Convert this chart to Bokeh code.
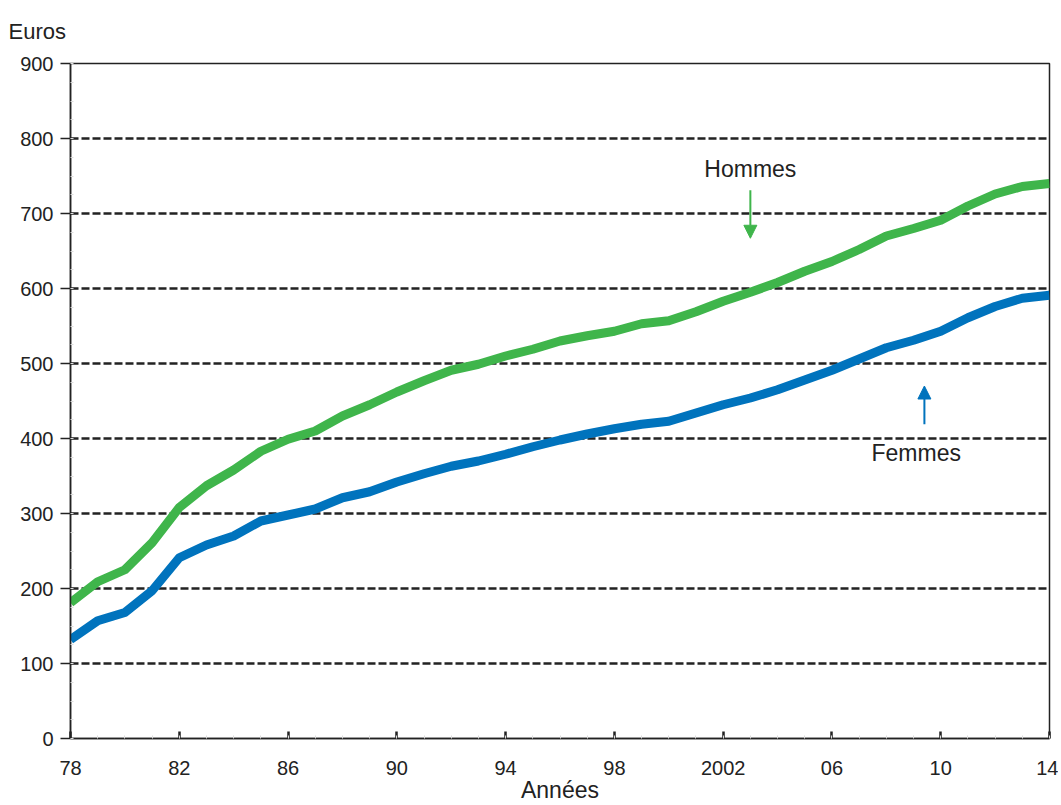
from bokeh.plotting import figure
from bokeh.models import Label, Arrow, NormalHead, FixedTicker, Range1d
from bokeh.embed import file_html
from bokeh.resources import INLINE

years = list(range(1978, 2015))
hommes = [181, 209, 225, 261, 308, 337, 358, 383, 399, 410, 430, 445, 462, 477, 491,
          499, 510, 519, 530, 537, 543, 553, 557, 569, 583, 595, 608, 623, 636, 652,
          670, 680, 691, 710, 726, 736, 740]
femmes = [132, 157, 168, 197, 241, 258, 270, 290, 298, 306, 321, 329, 342, 353, 363,
          370, 379, 389, 398, 406, 413, 419, 423, 434, 445, 454, 465, 478, 491, 506,
          521, 531, 543, 561, 576, 587, 591]
x_ticks = [1978, 1982, 1986, 1990, 1994, 1998, 2002, 2006, 2010, 2014]
x_tick_labels = ["78", "82", "86", "90", "94", "98", "2002", "06", "10", "14"]
y_ticks = [0, 100, 200, 300, 400, 500, 600, 700, 800, 900]

FONT = "Liberation Sans"
TXT = "#222222"
GREEN = "#3fb54b"
BLUE = "#0073bd"

p = figure(width=1058, height=805, output_backend="svg", toolbar_location=None,
           x_range=Range1d(1978, 2014), y_range=Range1d(0, 900),
           min_border_left=70, min_border_right=9, min_border_top=63, min_border_bottom=66,
           title="Euros")

p.title.align = "left"
p.title.vertical_align = "top"
p.title.offset = -62
p.title.standoff = 35
p.title.text_font = FONT
p.title.text_font_size = "22px"
p.title.text_font_style = "normal"
p.title.text_color = TXT

p.outline_line_color = "#222222"
p.outline_line_width = 1.5
p.background_fill_color = "white"
p.border_fill_color = "white"

p.xgrid.grid_line_color = None
p.ygrid.grid_line_color = "#222222"
p.ygrid.grid_line_width = 2.5
p.ygrid.grid_line_dash = "8 3"
p.ygrid.ticker = FixedTicker(ticks=y_ticks[1:-1])

xa = p.xaxis[0]
xa.ticker = FixedTicker(ticks=x_ticks, minor_ticks=years)
xa.major_label_overrides = {t: l for t, l in zip(x_ticks, x_tick_labels)}
xa.axis_line_color = "#222222"
xa.axis_line_width = 1.5
xa.major_tick_in = 7
xa.major_tick_out = 0
xa.major_tick_line_width = 2.5
xa.major_tick_line_color = "#222222"
xa.minor_tick_in = 3
xa.minor_tick_out = 0
xa.minor_tick_line_color = "#dddddd"
xa.major_label_text_font = FONT
xa.major_label_text_font_size = "20px"
xa.major_label_text_color = TXT
xa.major_label_standoff = 22
xa.axis_label = "Années"
xa.axis_label_text_font = FONT
xa.axis_label_text_font_size = "23px"
xa.axis_label_text_font_style = "normal"
xa.axis_label_text_color = TXT
xa.axis_label_standoff = -1

ya = p.yaxis[0]
ya.ticker = FixedTicker(ticks=y_ticks, minor_ticks=list(range(0, 901, 25)))
ya.axis_line_color = "#222222"
ya.axis_line_width = 1.5
ya.major_tick_in = 0
ya.major_tick_out = 10
ya.major_tick_line_color = "#222222"
ya.major_tick_line_width = 1.5
ya.minor_tick_in = 3
ya.minor_tick_out = 0
ya.minor_tick_line_color = "#dddddd"
ya.major_label_text_font = FONT
ya.major_label_text_font_size = "20px"
ya.major_label_text_color = TXT
ya.major_label_standoff = 7

p.line(years, hommes, line_color=GREEN, line_width=9, line_join="round")
p.line(years, femmes, line_color=BLUE, line_width=9, line_join="round")

p.add_layout(Arrow(x_start=2003, y_start=731, x_end=2003, y_end=667,
                   line_color=GREEN, line_width=2,
                   end=NormalHead(size=13, fill_color=GREEN, line_color=GREEN)))
p.add_layout(Arrow(x_start=2009.4, y_start=419, x_end=2009.4, y_end=470,
                   line_color=BLUE, line_width=2,
                   end=NormalHead(size=13, fill_color=BLUE, line_color=BLUE)))

p.add_layout(Label(x=2003, y=760, text="Hommes", text_align="center", text_baseline="middle",
                   text_font=FONT, text_font_size="23px", text_color=TXT))
p.add_layout(Label(x=2009.1, y=381, text="Femmes", text_align="center", text_baseline="middle",
                   text_font=FONT, text_font_size="23px", text_color=TXT))

open("out.html", "w").write(file_html(p, INLINE))
